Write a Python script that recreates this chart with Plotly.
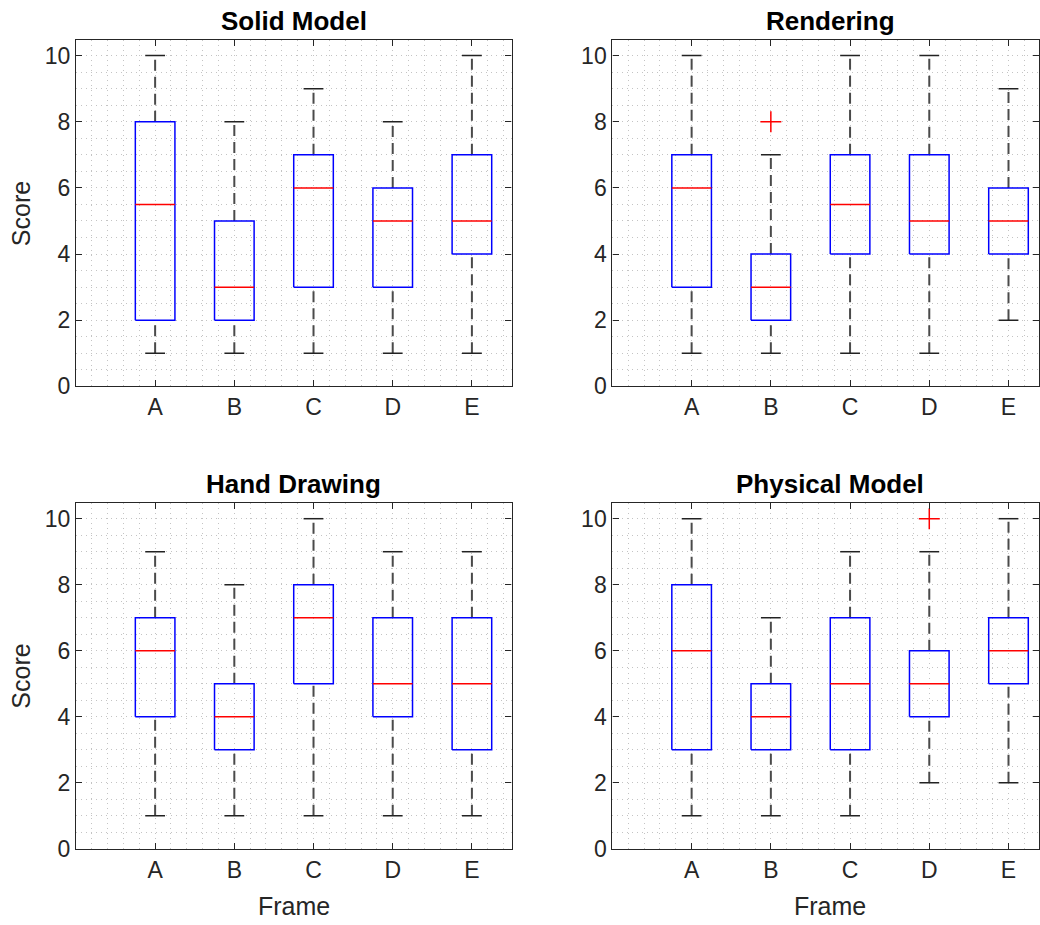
import plotly.graph_objects as go

frames = ["A", "B", "C", "D", "E"]
frame_pos = [1, 2, 3, 4, 5]
panel_titles = ["Solid Model", "Rendering", "Hand Drawing", "Physical Model"]

# Solid Model
solid_low = [1, 1, 1, 1, 1]
solid_q1 = [2, 2, 3, 3, 4]
solid_med = [5.5, 3, 6, 5, 5]
solid_q3 = [8, 5, 7, 6, 7]
solid_high = [10, 8, 9, 8, 10]
solid_out = [[], [], [], [], []]

# Rendering
rend_low = [1, 1, 1, 1, 2]
rend_q1 = [3, 2, 4, 4, 4]
rend_med = [6, 3, 5.5, 5, 5]
rend_q3 = [7, 4, 7, 7, 6]
rend_high = [10, 7, 10, 10, 9]
rend_out = [[], [8], [], [], []]

# Hand Drawing
hand_low = [1, 1, 1, 1, 1]
hand_q1 = [4, 3, 5, 4, 3]
hand_med = [6, 4, 7, 5, 5]
hand_q3 = [7, 5, 8, 7, 7]
hand_high = [9, 8, 10, 9, 9]
hand_out = [[], [], [], [], []]

# Physical Model
phys_low = [1, 1, 1, 2, 2]
phys_q1 = [3, 3, 3, 4, 5]
phys_med = [6, 4, 5, 5, 6]
phys_q3 = [8, 5, 7, 6, 7]
phys_high = [10, 7, 9, 9, 10]
phys_out = [[], [], [], [10], []]

panels = [
    (solid_low, solid_q1, solid_med, solid_q3, solid_high, solid_out),
    (rend_low, rend_q1, rend_med, rend_q3, rend_high, rend_out),
    (hand_low, hand_q1, hand_med, hand_q3, hand_high, hand_out),
    (phys_low, phys_q1, phys_med, phys_q3, phys_high, phys_out),
]

W, H = 1040, 925
YS = 0.985  # vertical scale observed in the photographed page
BW = 0.25   # half box width
CW = 0.125  # half cap width
FONT = "Liberation Sans, Arial, Helvetica, sans-serif"
AX = "#262626"
GRID = "#c4c4c4"
GDASH = "1px,4px"

fig = go.Figure()

for k, (low, q1, med, q3, high, outs) in enumerate(panels):
    xa = "x" if k == 0 else f"x{k+1}"
    ya = "y" if k == 0 else f"y{k+1}"
    wx, wy, cx, cy, bx, by, mx, my, ox, oy = [], [], [], [], [], [], [], [], [], []
    for i, p in enumerate(frame_pos):
        wx += [p, p, None, p, p, None]
        wy += [q3[i], high[i], None, low[i], q1[i], None]
        cx += [p - CW, p + CW, None, p - CW, p + CW, None]
        cy += [high[i], high[i], None, low[i], low[i], None]
        bx += [p - BW, p + BW, p + BW, p - BW, p - BW, None]
        by += [q1[i], q1[i], q3[i], q3[i], q1[i], None]
        mx += [p - BW, p + BW, None]
        my += [med[i], med[i], None]
        for o in outs[i]:
            ox.append(p)
            oy.append(o)
    common = dict(xaxis=xa, yaxis=ya, showlegend=False, hoverinfo="skip")
    fig.add_trace(go.Scatter(x=wx, y=wy, mode="lines",
                             line=dict(color="#4a4a4a", width=2, dash="11px,6px"), **common))
    fig.add_trace(go.Scatter(x=cx, y=cy, mode="lines",
                             line=dict(color="#222222", width=1.5), **common))
    fig.add_trace(go.Scatter(x=bx, y=by, mode="lines",
                             line=dict(color="#0000ff", width=1.5), **common))
    fig.add_trace(go.Scatter(x=mx, y=my, mode="lines",
                             line=dict(color="#ff0000", width=1.5), **common))
    if ox:
        fig.add_trace(go.Scatter(x=ox, y=oy, mode="markers",
                                 marker=dict(symbol="cross-thin", size=15,
                                             line=dict(color="#ff0000", width=1.5)),
                                 **common))


def px_x(v):
    return v / W


def px_y(v):
    return 1 - (v / YS) / H


left_x = (px_x(76), px_x(512))
right_x = (px_x(613), 1.0)
top_y = (px_y(386), px_y(40))
bot_y = (px_y(848), px_y(502.7))
doms = [(left_x, top_y), (right_x, top_y), (left_x, bot_y), (right_x, bot_y)]
xranges = [[0, 5.5], [0, 5.385], [0, 5.5], [0, 5.385]]

for k in range(4):
    xs = "xaxis" if k == 0 else f"xaxis{k+1}"
    ys = "yaxis" if k == 0 else f"yaxis{k+1}"
    (dx, dy) = doms[k]
    fig.layout[xs] = dict(
        domain=list(dx), anchor="y" if k == 0 else f"y{k+1}",
        range=xranges[k], tickmode="array", tickvals=frame_pos, ticktext=frames,
        ticks="inside", ticklen=6, tickcolor=AX, showline=True, linecolor=AX,
        linewidth=1.2, mirror="ticks", zeroline=False,
        tickfont=dict(family=FONT, size=23, color=AX),
        showgrid=True, gridcolor=GRID, gridwidth=1, griddash=GDASH,
        minor=dict(tick0=0, dtick=0.2, showgrid=True, gridcolor=GRID,
                   griddash=GDASH, ticks=""),
    )
    fig.layout[ys] = dict(
        domain=list(dy), anchor="x" if k == 0 else f"x{k+1}",
        range=[0, 10.47], tickmode="array", tickvals=[0, 2, 4, 6, 8, 10],
        ticks="inside", ticklen=6, tickcolor=AX, showline=True, linecolor=AX,
        linewidth=1.2, mirror="ticks", zeroline=False,
        tickfont=dict(family=FONT, size=23, color=AX),
        showgrid=True, gridcolor=GRID, gridwidth=1, griddash=GDASH,
        minor=dict(tick0=0, dtick=0.5, showgrid=True, gridcolor=GRID,
                   griddash=GDASH, ticks=""),
    )

annotations = []
title_pos = [(294, 21), (831, 21), (294, 484), (831, 484)]
for (px, py), t in zip(title_pos, panel_titles):
    annotations.append(dict(text=f"<b>{t}</b>", x=px_x(px), y=px_y(py), xref="paper", yref="paper",
                            xanchor="center", yanchor="middle", showarrow=False,
                            font=dict(family=FONT, size=26, color="#000000")))
for py in [213, 675]:
    annotations.append(dict(text="Score", x=px_x(21), y=px_y(py), xref="paper", yref="paper",
                            xanchor="center", yanchor="middle", showarrow=False, textangle=-90,
                            font=dict(family=FONT, size=25, color=AX)))
for px in [294, 831]:
    annotations.append(dict(text="Frame", x=px_x(px), y=px_y(905), xref="paper", yref="paper",
                            xanchor="center", yanchor="middle", showarrow=False,
                            font=dict(family=FONT, size=25, color=AX)))

fig.update_layout(
    width=W, height=H, margin=dict(l=0, r=0, t=0, b=0),
    paper_bgcolor="white", plot_bgcolor="white",
    annotations=annotations, showlegend=False,
)

fig.write_html(
    "out.html",
    config={"displayModeBar": False},
    post_script=("document.documentElement.style.margin='0';"
                 "document.body.style.margin='0';"
                 "document.documentElement.style.overflow='hidden';"
                 "document.body.style.overflow='hidden';"),
)
